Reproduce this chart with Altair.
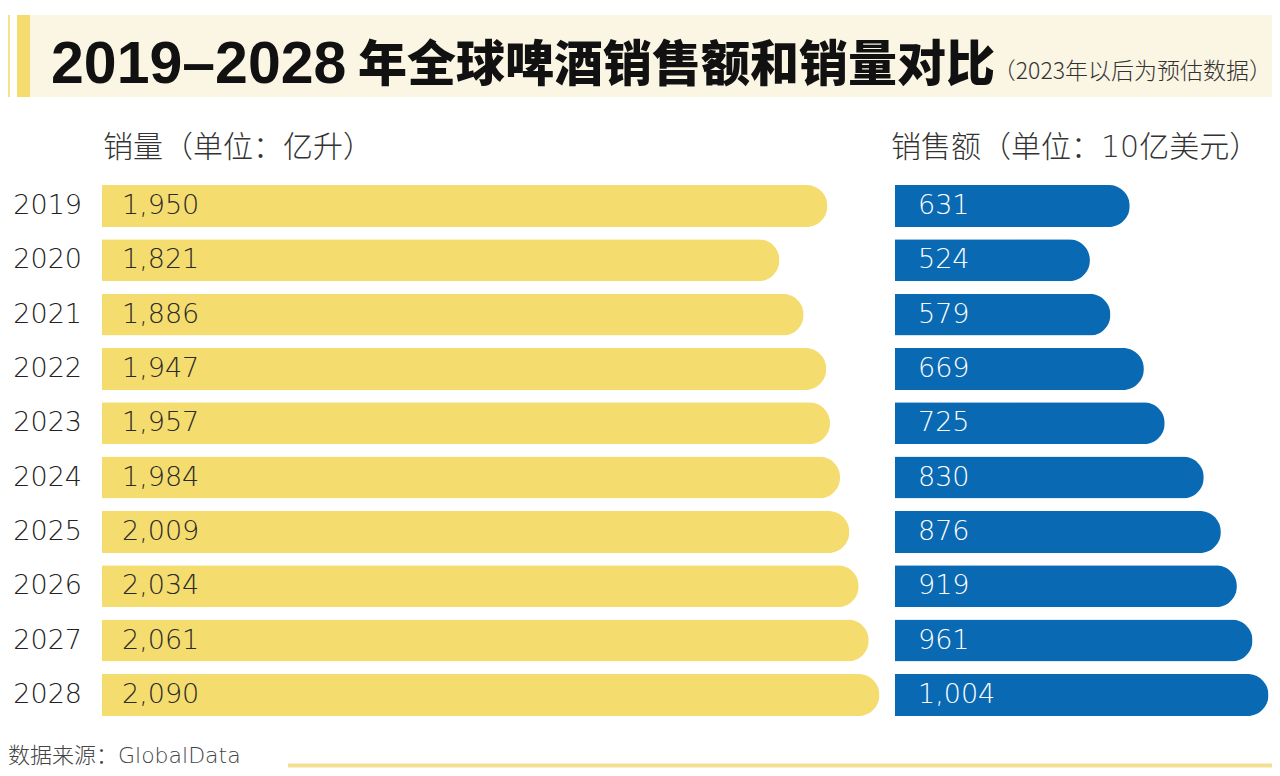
import altair as alt
import pandas as pd

years = ["2019", "2020", "2021", "2022", "2023", "2024", "2025", "2026", "2027", "2028"]
volume = [1950, 1821, 1886, 1947, 1957, 1984, 2009, 2034, 2061, 2090]   # 亿升
sales = [631, 524, 579, 669, 725, 830, 876, 919, 961, 1004]            # 10亿美元

title_years = "2019–2028"
title_rest = "年全球啤酒销售额和销量对比"
subtitle_text = "（2023年以后为预估数据）"
left_header = "销量（单位：亿升）"
right_header = "销售额（单位：10亿美元）"
source_text = "数据来源：GlobalData"

df = pd.DataFrame({"year": years, "volume": volume, "sales": sales})

YELLOW = "#F5DC6E"
BLUE = "#0A69B3"
CREAM = "#FBF5E3"
NUM_FONT = "DejaVu Sans"
CJK = "Noto Sans CJK SC"
MIXED = "DejaVu Sans, Noto Sans CJK SC"

W, H = 1264, 760

yscale = alt.Scale(domain=years, range=[170.8, 714.1], paddingInner=0.227, paddingOuter=0.1135)
Y = alt.Y("year:N", scale=yscale, axis=None)

one = alt.Data(values=[{"k": 1}])

band = alt.Chart(one).mark_rect(color=CREAM).encode(
    x=alt.value(22), x2=alt.value(W), y=alt.value(7), y2=alt.value(89))
thin = alt.Chart(one).mark_rect(color=YELLOW, opacity=0.8).encode(
    x=alt.value(0), x2=alt.value(2), y=alt.value(7), y2=alt.value(89))
thick = alt.Chart(one).mark_rect(color=YELLOW).encode(
    x=alt.value(9), x2=alt.value(22), y=alt.value(7), y2=alt.value(89))

title_a = alt.Chart(one).mark_text(
    text=title_years, font="Liberation Sans", fontSize=59, fontWeight="bold", color="#111",
    align="left", baseline="alphabetic").encode(x=alt.value(43), y=alt.value(75))
title_b = alt.Chart(one).mark_text(
    text=title_rest, font=CJK, fontSize=49, fontWeight=900, color="#111",
    align="left", baseline="alphabetic").encode(x=alt.value(350), y=alt.value(73))
subtitle = alt.Chart(one).mark_text(
    text=subtitle_text, font=CJK, fontSize=23, fontWeight=300, color="#333",
    align="right", baseline="middle").encode(x=alt.value(W), y=alt.value(64))

hdr_l = alt.Chart(one).mark_text(
    text=left_header, font=CJK, fontSize=30, fontWeight=300, color="#333",
    align="left", baseline="middle").encode(x=alt.value(95), y=alt.value(140))
hdr_r = alt.Chart(one).mark_text(
    text=right_header, font=MIXED, fontSize=30, fontWeight=300, color="#333",
    align="left", baseline="middle").encode(x=alt.value(883), y=alt.value(140))

base = alt.Chart(df)

ybars = base.mark_bar(color=YELLOW, cornerRadiusEnd=21).encode(
    x=alt.X("volume:Q", scale=alt.Scale(domain=[0, 2000], range=[94, 838]), axis=None),
    y=Y)
bbars = base.mark_bar(color=BLUE, cornerRadiusEnd=21).encode(
    x=alt.X("sales:Q", scale=alt.Scale(domain=[0, 1000], range=[887, 1259]), axis=None),
    y=Y)

ylab = base.mark_text(font=NUM_FONT, fontSize=27, fontWeight=200, color="#2a2a2a",
                      align="left", baseline="middle").encode(
    x=alt.value(114), y=Y, text=alt.Text("volume:Q", format=","))
blab = base.mark_text(font=NUM_FONT, fontSize=27, fontWeight=200, color="#ffffff",
                      align="left", baseline="middle").encode(
    x=alt.value(910), y=Y, text=alt.Text("sales:Q", format=","))
yrlab = base.mark_text(font=NUM_FONT, fontSize=27, fontWeight=200, color="#222",
                       align="right", baseline="middle").encode(
    x=alt.value(74), y=Y, text="year:N")

src = alt.Chart(one).mark_text(
    text=source_text, font=MIXED, fontSize=22, fontWeight=300, color="#444",
    align="left", baseline="middle").encode(x=alt.value(0), y=alt.value(748))
line = alt.Chart(one).mark_rule(color="#F3DF94", strokeWidth=4).encode(
    x=alt.value(280), x2=alt.value(W), y=alt.value(757.5))

chart = alt.layer(
    band, thin, thick, title_a, title_b, subtitle, hdr_l, hdr_r,
    ybars, bbars, ylab, blab, yrlab, src, line
).resolve_scale(x="independent").properties(
    width=W, height=H, autosize=alt.AutoSizeParams(type="none"), padding=0,
    background="white"
).configure_view(stroke=None)

chart.save("out.html", embed_options={"renderer": "svg", "actions": False})
